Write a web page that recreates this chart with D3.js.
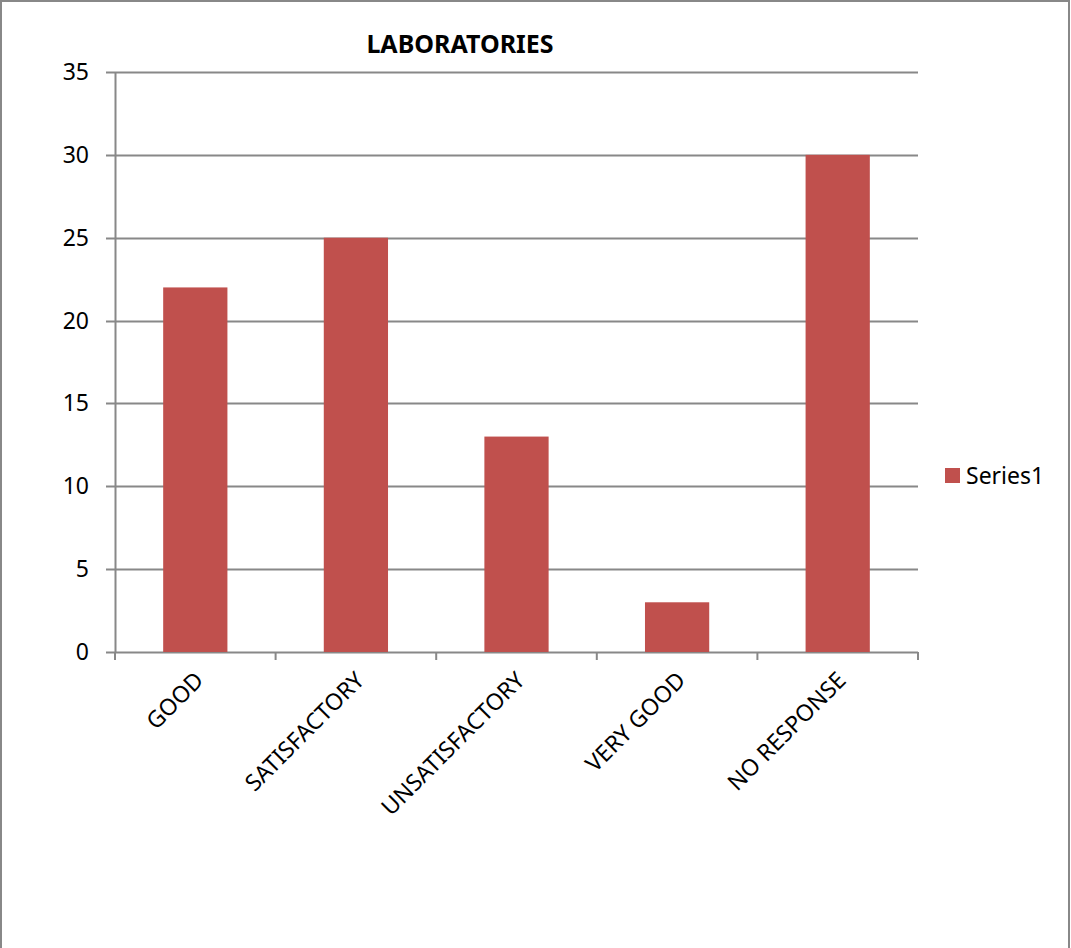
<!DOCTYPE html>
<html>
<head>
<meta charset="utf-8">
<script src="https://cdn.jsdelivr.net/npm/d3@7"></script>
<style>
    body { margin: 0; background: #fff; }
    svg { display: block; font-family: 'Noto Sans', 'Open Sans', sans-serif; }
</style>
</head>
<body>
<div id="chart"></div>
<script>
// Chart data
const categories = ['GOOD', 'SATISFACTORY', 'UNSATISFACTORY', 'VERY GOOD', 'NO RESPONSE'];
const series1 = [22, 25, 13, 3, 30];
const yTicks = [0, 5, 10, 15, 20, 25, 30, 35];
const seriesName = 'Series1';
const chartTitle = 'LABORATORIES';

const config = {
    width: 1071,
    height: 948,
    barColor: '#C0504D',
    gridColor: '#888888',
    textColor: '#000000'
};

const margin = { top: 72, right: 153, bottom: 296, left: 115 };
const innerW = config.width - margin.left - margin.right;
const innerH = config.height - margin.top - margin.bottom;

const svg = d3.select('#chart').append('svg')
    .attr('width', config.width)
    .attr('height', config.height);

// outer chart border
svg.append('rect')
    .attr('x', 1).attr('y', 1)
    .attr('width', config.width - 3)
    .attr('height', config.height + 10)
    .attr('fill', 'none')
    .attr('stroke', '#888')
    .attr('stroke-width', 2);

const g = svg.append('g')
    .attr('transform', `translate(${margin.left},${margin.top})`);

const x = d3.scaleBand()
    .domain(categories)
    .range([0, innerW])
    .paddingInner(0.6)
    .paddingOuter(0.3);

const y = d3.scaleLinear()
    .domain([0, 35])
    .range([innerH, 0]);

// gridlines
g.append('g')
    .selectAll('line')
    .data(yTicks)
    .enter()
    .append('line')
    .attr('x1', -9)
    .attr('x2', innerW)
    .attr('y1', d => Math.round(y(d)) + 0.5)
    .attr('y2', d => Math.round(y(d)) + 0.5)
    .attr('stroke', config.gridColor)
    .attr('stroke-width', 2);

// bars
g.append('g')
    .selectAll('rect')
    .data(series1)
    .enter()
    .append('rect')
    .attr('x', (d, i) => x(categories[i]))
    .attr('y', d => y(d))
    .attr('width', x.bandwidth())
    .attr('height', d => innerH - y(d))
    .attr('fill', config.barColor);

// y axis line
g.append('line')
    .attr('x1', 0.5).attr('x2', 0.5)
    .attr('y1', 0).attr('y2', innerH + 1)
    .attr('stroke', config.gridColor)
    .attr('stroke-width', 2);

// y tick labels
g.append('g')
    .selectAll('text')
    .data(yTicks)
    .enter()
    .append('text')
    .attr('x', -26)
    .attr('y', d => y(d))
    .attr('dy', '0.35em')
    .attr('text-anchor', 'end')
    .style('font-size', '23px')
    .style('fill', config.textColor)
    .text(d => d);

// category boundary ticks
const step = innerW / categories.length;
g.append('g')
    .selectAll('line')
    .data(d3.range(categories.length + 1))
    .enter()
    .append('line')
    .attr('x1', d => d * step)
    .attr('x2', d => d * step)
    .attr('y1', innerH)
    .attr('y2', innerH + 8)
    .attr('stroke', config.gridColor)
    .attr('stroke-width', 2);

// category labels rotated
g.append('g')
    .selectAll('text')
    .data(categories)
    .enter()
    .append('text')
    .attr('text-anchor', 'end')
    .attr('transform', d => {
        const cx = x(d) + x.bandwidth() / 2 + 4;
        return `translate(${cx},${innerH + 24}) rotate(-45)`;
    })
    .attr('dy', '0.35em')
    .style('font-size', '23px')
    .style('fill', config.textColor)
    .text(d => d);

// title
svg.append('text')
    .attr('x', 460)
    .attr('y', 53)
    .attr('text-anchor', 'middle')
    .style('font-size', '25px')
    .style('font-weight', 'bold')
    .style('fill', config.textColor)
    .text(chartTitle);

// legend
const legend = svg.append('g')
    .attr('transform', 'translate(945,468)');
legend.append('rect')
    .attr('width', 15)
    .attr('height', 15)
    .attr('fill', config.barColor);
legend.append('text')
    .attr('x', 21)
    .attr('y', 8)
    .attr('dy', '0.35em')
    .style('font-size', '23px')
    .style('fill', config.textColor)
    .text(seriesName);
</script>
</body>
</html>
